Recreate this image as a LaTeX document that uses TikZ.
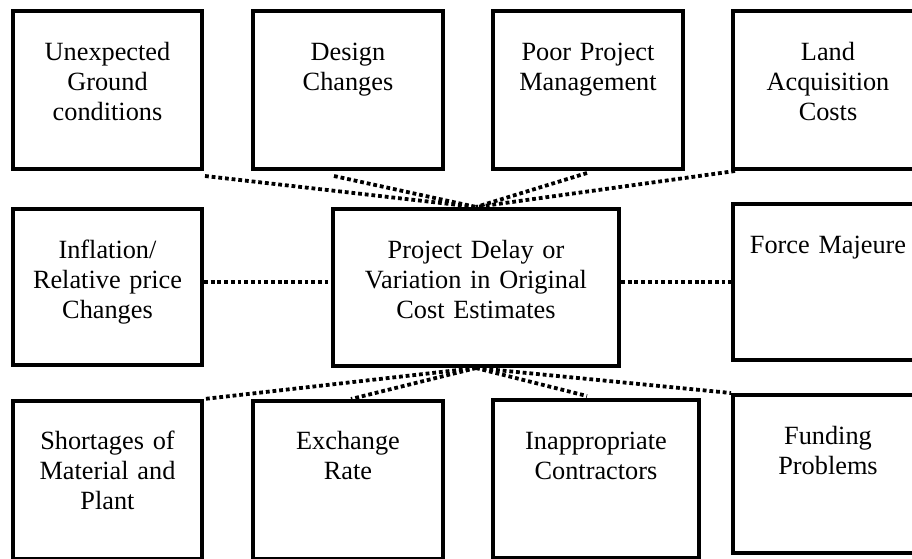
\documentclass[tikz,border=0pt]{standalone}
\usepackage{fontspec}
\setmainfont{Liberation Serif}
\usetikzlibrary{calc}
\tikzset{
  box/.style={draw=black, line width=4pt, inner sep=0pt, fill=none},
  lbl/.style={anchor=base, text width=230pt, align=center, inner sep=0pt,
    font=\fontsize{26.3pt}{30.4pt}\selectfont},
  link/.style={draw=black, line width=3.8pt, dash pattern=on 3.8pt off 2.9pt, line cap=butt}
}
\begin{document}
\begin{tikzpicture}[x=1pt, y=-1pt]
\useasboundingbox[fill=white] (0,0) rectangle (912,558);
% top row
\node[box, minimum width=189pt, minimum height=158pt] (ugc) at (107.5,90) {};
\node[box, minimum width=190pt, minimum height=158pt] (dc) at (348,90) {};
\node[box, minimum width=190pt, minimum height=158pt] (ppm) at (588,90) {};
\node[box, minimum width=190pt, minimum height=158pt] (lac) at (828,90) {};
% middle row
\node[box, minimum width=189pt, minimum height=156pt] (inf) at (107.5,287) {};
\node[box, minimum width=286pt, minimum height=157pt] (c) at (476,287.5) {};
\node[box, minimum width=190pt, minimum height=156pt] (fm) at (828,282) {};
% bottom row
\node[box, minimum width=189pt, minimum height=158pt] (sm) at (107.5,480) {};
\node[box, minimum width=190pt, minimum height=158pt] (er) at (348,480) {};
\node[box, minimum width=206pt, minimum height=158pt] (ic) at (596,479) {};
\node[box, minimum width=190pt, minimum height=158pt] (fp) at (828,474) {};
% texts
\node[lbl] (ugct) at (107.5,60) {Unexpected\\Ground\\conditions};
\node[lbl] (dct) at (348,60) {Design\\Changes};
\node[lbl] (ppmt) at (588,60) {Poor Project\\Management};
\node[lbl] (lact) at (828,60) {Land\\Acquisition\\Costs};
\node[lbl] (inft) at (107.5,258) {Inflation/\\Relative price\\Changes};
\node[lbl] (ct) at (476,258) {Project Delay or\\Variation in Original\\Cost Estimates};
\node[lbl] (fmt) at (828,253) {Force Majeure};
\node[lbl] (smt) at (107.5,449) {Shortages of\\Material and\\Plant};
\node[lbl] (ert) at (348,449) {Exchange\\Rate};
\node[lbl] (ict) at (596,449) {Inappropriate\\Contractors};
\node[lbl] (fpt) at (828,444) {Funding\\Problems};
% connectors
\draw[link] ($(ugc.south east)+(1,5)$) -- (c.north);
\draw[link] ($(dc.south)+(-14,5)$) -- (c.north);
\draw[link] ($(ppm.south)+(-1,2)$) -- (c.north);
\draw[link] ($(lac.south west)+(4,0)$) -- (c.north);
\draw[link] ($(inf.east)+(0,-5)$) -- ($(c.west)+(0,-5.5)$);
\draw[link] ($(c.east)+(0,-5.5)$) -- (fm.west);
\draw[link] (c.south) -- (sm.north east);
\draw[link] (c.south) -- ($(er.north)+(3,0)$);
\draw[link] (c.south) -- ($(ic.north)+(-9,-2)$);
\draw[link] (c.south) -- (fp.north west);
\end{tikzpicture}
\end{document}
